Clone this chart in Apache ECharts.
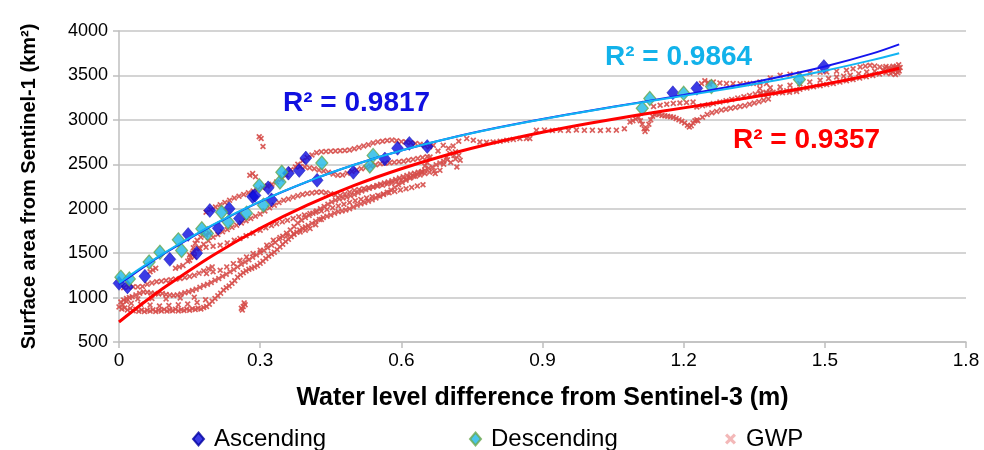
<!DOCTYPE html>
<html>
<head>
<meta charset="utf-8">
<script src="https://cdn.jsdelivr.net/npm/echarts@6/dist/echarts.min.js"></script>
<style>
  html, body { margin: 0; padding: 0; background: #ffffff; }
  #chart { width: 984px; height: 450px; }
</style>
</head>
<body>
<div id="chart"></div>
<script>
// Surface area (km²) versus water level difference (m)

const ascending = [
  [0.000,1160],[0.018,1120],[0.055,1240],[0.108,1430],[0.147,1710],[0.165,1500],
  [0.193,1980],[0.211,1780],[0.234,2000],[0.256,1890],[0.284,2135],[0.289,2150],
  [0.317,2235],[0.324,2100],[0.360,2400],[0.383,2430],[0.397,2570],[0.421,2320],
  [0.498,2410],[0.565,2560],[0.592,2680],[0.617,2735],[0.655,2700],
  [1.177,3305],[1.228,3355],[1.498,3600]
];

const descending = [
  [0.004,1230],[0.022,1210],[0.064,1400],[0.087,1510],[0.126,1650],[0.133,1530],
  [0.176,1775],[0.188,1720],[0.218,1960],[0.232,1850],[0.271,1950],[0.298,2260],
  [0.307,2040],[0.342,2300],[0.346,2410],[0.431,2515],[0.533,2480],[0.540,2600],
  [1.112,3130],[1.128,3240],[1.200,3300],[1.259,3375],[1.446,3455]
];

const gwp = [
  // lowest band near 850–900
  [0.000,895],[0.006,872],[0.012,884],[0.018,861],[0.024,878],[0.030,852],[0.036,868],[0.042,846],
  [0.048,860],[0.054,842],[0.060,856],[0.066,848],[0.072,862],[0.078,844],[0.084,858],[0.090,850],
  [0.096,866],[0.102,848],[0.108,860],[0.114,852],[0.120,868],[0.126,850],[0.132,862],[0.138,855],
  [0.144,870],[0.150,858],[0.156,874],[0.162,866],[0.168,880],[0.174,872],[0.180,888],[0.186,900],
  [0.192,925],[0.198,960],[0.204,990],[0.210,1020],[0.216,1050],[0.222,1085],[0.228,1110],[0.234,1130],
  [0.240,1160],[0.246,1190],[0.252,1230],[0.258,1255],[0.264,1280],[0.270,1300],[0.276,1318],[0.282,1330],
  [0.288,1345],[0.294,1360],[0.300,1385],[0.306,1410],[0.312,1440],[0.318,1465],[0.324,1490],[0.330,1510],
  [0.336,1540],[0.342,1570],[0.348,1600],[0.354,1630],[0.360,1655],[0.366,1685],[0.372,1710],[0.378,1735],
  [0.384,1760],[0.390,1780],[0.396,1795],[0.402,1810],[0.410,1835],[0.418,1860],[0.426,1880],[0.434,1900],
  [0.442,1915],[0.450,1930],[0.458,1950],[0.466,1965],[0.474,1975],[0.482,1985],[0.490,2000],[0.498,2020],
  [0.506,2040],[0.514,2055],[0.522,2070],[0.530,2085],[0.538,2100],[0.546,2120],[0.554,2140],[0.562,2160],
  [0.570,2185],[0.578,2210],[0.586,2240],[0.594,2270],[0.602,2295],[0.610,2320],[0.618,2345],[0.626,2365],
  [0.634,2385],[0.642,2410],[0.650,2430],[0.658,2455],[0.666,2470],[0.674,2495],[0.682,2515],[0.690,2535],
  [0.698,2550],
  // filler between the two lowest bands
  [0.008,920],[0.026,935],[0.046,925],[0.066,915],[0.086,905],[0.106,910],[0.126,918],[0.146,928],
  [0.166,945],[0.184,975],[0.016,955],[0.040,985],[0.070,990],[0.100,985],[0.130,995],[0.160,1005],
  // second band near 950–1060
  [0.004,950],[0.010,972],[0.016,990],[0.022,1000],[0.028,1010],[0.036,1030],[0.044,1048],[0.052,1062],
  [0.060,1060],[0.068,1052],[0.076,1046],[0.084,1040],[0.092,1045],[0.100,1035],[0.108,1028],[0.116,1024],
  [0.124,1030],[0.132,1040],[0.140,1055],[0.148,1065],[0.156,1080],[0.164,1095],[0.172,1115],[0.180,1135],
  [0.188,1150],[0.196,1170],[0.204,1195],[0.212,1215],[0.220,1240],[0.228,1262],[0.236,1290],[0.244,1315],
  [0.252,1345],[0.260,1375],[0.268,1400],[0.276,1425],[0.284,1455],[0.292,1480],[0.300,1505],[0.308,1530],
  [0.316,1560],[0.324,1590],[0.332,1620],[0.340,1655],[0.348,1690],[0.356,1725],[0.364,1760],[0.372,1800],
  [0.380,1840],[0.388,1870],[0.396,1900],[0.404,1925],[0.412,1950],[0.420,1975],[0.428,2000],[0.436,2025],
  [0.444,2050],[0.452,2075],[0.460,2095],[0.468,2110],[0.476,2120],[0.484,2130],[0.492,2145],[0.500,2160],
  [0.508,2180],[0.516,2200],[0.524,2215],[0.532,2230],[0.540,2245],[0.548,2260],[0.556,2275],[0.564,2290],
  [0.572,2300],[0.580,2315],[0.588,2330],[0.596,2345],[0.604,2360],[0.612,2375],[0.620,2390],[0.628,2400],
  [0.636,2410],[0.644,2420],
  // band near 1100–1350 on the left
  [0.010,1110],[0.020,1118],[0.030,1122],[0.040,1120],[0.050,1125],[0.060,1150],[0.070,1165],[0.080,1178],
  [0.090,1185],[0.100,1192],[0.110,1200],[0.120,1208],[0.130,1215],[0.140,1225],[0.150,1238],[0.160,1250],
  [0.170,1275],[0.180,1300],[0.190,1325],[0.198,1345],
  [0.066,1290],[0.072,1310],[0.078,1330],[0.120,1330],[0.128,1345],[0.136,1360],[0.146,1410],[0.152,1455],
  [0.156,1500],[0.158,1560],[0.162,1610],[0.166,1645],[0.174,1680],[0.184,1705],[0.192,1725],
  // rising bands between the trend lines
  [0.186,1270],[0.200,1290],[0.215,1307],[0.229,1345],[0.243,1382],[0.257,1420],[0.271,1457],[0.285,1495],
  [0.300,1532],[0.314,1590],[0.328,1645],[0.342,1675],[0.357,1701],[0.371,1720],[0.385,1738],[0.396,1758],
  [0.406,1776],[0.418,1820],[0.430,1880],
  [0.150,1420],[0.160,1460],[0.172,1550],[0.185,1565],[0.200,1578],[0.215,1590],[0.230,1615],[0.245,1645],
  [0.257,1665],[0.270,1695],[0.285,1725],[0.300,1757],[0.312,1785],[0.324,1810],[0.335,1832],[0.347,1852],
  [0.358,1870],[0.370,1890],[0.382,1910],[0.394,1930],[0.406,1945],[0.418,1960],[0.430,1975],[0.442,1990],
  [0.454,2010],[0.466,2030],[0.478,2050],[0.490,2070],[0.502,2090],[0.514,2105],[0.526,2120],[0.538,2135],
  [0.550,2150],[0.562,2165],[0.574,2180],[0.586,2195],[0.598,2210],[0.610,2225],[0.622,2240],[0.634,2255],
  [0.646,2270],
  [0.150,1480],[0.160,1520],[0.170,1560],[0.180,1600],[0.190,1640],[0.200,1680],[0.210,1710],[0.220,1740],
  [0.230,1765],[0.240,1790],[0.250,1815],[0.260,1840],[0.270,1865],[0.280,1890],[0.290,1915],[0.300,1940],
  [0.310,1975],[0.320,2010],[0.330,2040],[0.340,2070],[0.350,2095],[0.360,2110],[0.370,2130],[0.380,2145],
  [0.390,2160],[0.400,2170],[0.410,2178],[0.420,2185],[0.430,2188],[0.440,2180],[0.450,2168],[0.460,2155],
  [0.470,2150],[0.480,2165],[0.490,2185],[0.500,2205],[0.510,2215],[0.520,2225],[0.530,2235],[0.540,2245],
  [0.550,2255],[0.560,2265],[0.570,2278],[0.580,2290],[0.590,2305],[0.600,2320],[0.610,2335],[0.620,2350],
  [0.630,2365],[0.640,2380],[0.650,2395],[0.660,2410],[0.670,2425],
  [0.185,1960],[0.195,1990],[0.205,2020],[0.215,2045],[0.225,2070],[0.235,2095],[0.245,2120],[0.255,2140],
  [0.265,2160],[0.275,2180],[0.285,2200],[0.295,2215],[0.305,2235],[0.315,2255],[0.325,2275],[0.335,2300],
  [0.345,2330],[0.355,2380],[0.365,2440],[0.375,2470],[0.385,2475],[0.395,2470],[0.405,2460],[0.415,2450],
  [0.425,2435],[0.435,2425],[0.445,2410],[0.455,2390],[0.465,2378],[0.475,2380],[0.485,2400],[0.495,2420],
  [0.505,2435],[0.515,2450],[0.525,2465],[0.535,2480],[0.545,2495],[0.555,2505],[0.565,2512],[0.575,2518],
  [0.585,2522],[0.595,2528],[0.605,2535],[0.615,2545],[0.625,2555],[0.635,2565],[0.645,2575],[0.655,2585],
  [0.380,2500],[0.390,2540],[0.400,2575],[0.410,2605],[0.420,2630],[0.430,2640],[0.440,2645],[0.450,2648],
  [0.460,2650],[0.470,2652],[0.480,2655],[0.490,2660],[0.500,2675],[0.510,2690],[0.520,2705],[0.530,2720],
  [0.540,2740],[0.550,2752],[0.560,2760],[0.570,2768],[0.580,2772],[0.590,2765],[0.600,2755],[0.610,2750],
  [0.620,2742],[0.630,2735],[0.640,2725],[0.650,2710],[0.660,2698],
  // isolated points
  [0.260,880],[0.262,860],[0.264,900],[0.266,940],[0.268,920],
  [0.298,2810],[0.302,2790],[0.306,2700],[0.278,2376],[0.284,2395],[0.290,2360],
  // cluster near 0.65–0.73
  [0.650,2480],[0.655,2520],[0.661,2582],[0.668,2713],[0.672,2395],[0.678,2650],[0.682,2432],[0.689,2713],
  [0.690,2500],[0.696,2582],[0.700,2680],[0.703,2620],[0.705,2520],[0.710,2705],[0.712,2600],[0.715,2560],
  [0.715,2640],[0.718,2470],[0.722,2600],[0.725,2545],
  // sparse middle run
  [0.722,2760],[0.739,2789],[0.753,2770],[0.767,2750],[0.781,2748],[0.795,2750],[0.810,2760],[0.824,2770],
  [0.838,2780],[0.852,2789],[0.866,2790],[0.873,2789],
  [0.887,2882],[0.904,2885],[0.921,2880],[0.938,2884],[0.955,2880],[0.972,2886],[0.989,2882],[1.006,2884],
  [1.023,2880],[1.040,2886],[1.057,2884],[1.074,2900],[1.086,2976],
  // cluster near 1.1–1.23
  [1.092,2990],[1.098,3010],[1.104,3030],[1.108,2990],[1.112,2950],[1.116,2900],[1.118,2870],[1.122,2900],
  [1.126,2950],[1.130,3000],[1.134,3040],[1.138,3060],[1.142,3070],[1.148,3060],[1.154,3050],[1.160,3045],
  [1.166,3040],[1.172,3035],[1.178,3030],[1.184,3015],[1.190,3000],[1.196,2985],[1.202,2965],[1.208,2940],
  [1.212,2920],[1.216,2935],[1.220,2965],[1.224,2990],[1.228,3000],
  [1.136,3150],[1.150,3165],[1.164,3175],[1.178,3185],[1.192,3190],[1.206,3195],[1.220,3200],
  [1.228,3145],[1.240,3160],[1.252,3170],[1.263,3183],[1.277,3200],[1.290,3215],[1.302,3230],[1.315,3245],
  [1.328,3260],[1.340,3275],[1.352,3290],[1.364,3300],[1.375,3310],[1.383,3315],
  [1.230,2990],[1.240,3030],[1.250,3060],[1.260,3080],[1.270,3095],[1.280,3110],[1.290,3120],[1.300,3130],
  [1.310,3140],[1.320,3150],[1.330,3160],[1.340,3175],[1.350,3190],[1.360,3205],[1.370,3220],[1.380,3235],
  [1.238,3408],[1.245,3440],[1.252,3420],[1.255,3400],[1.263,3426],[1.277,3415],[1.291,3408],[1.305,3408],
  [1.320,3405],[1.334,3408],[1.348,3410],[1.362,3412],[1.376,3408],
  // upper right bands
  [1.362,3426],[1.384,3470],[1.405,3502],[1.426,3512],[1.447,3520],[1.468,3528],[1.490,3535],[1.504,3539],
  [1.525,3548],[1.546,3558],[1.560,3575],[1.575,3595],[1.586,3605],[1.596,3614],[1.606,3605],[1.617,3595],
  [1.630,3600],[1.645,3603],[1.656,3577],
  [1.362,3352],[1.384,3362],[1.405,3370],[1.426,3390],[1.447,3408],[1.468,3426],[1.490,3445],[1.508,3465],
  [1.525,3482],[1.540,3492],[1.554,3502],[1.572,3520],[1.589,3539],[1.606,3548],[1.624,3558],[1.638,3568],
  [1.652,3577],
  [1.362,3295],[1.376,3300],[1.390,3310],[1.405,3320],[1.419,3328],[1.433,3333],[1.447,3345],[1.462,3358],
  [1.476,3372],[1.490,3385],[1.504,3398],[1.518,3410],[1.532,3425],[1.546,3440],[1.560,3455],[1.574,3470],
  [1.588,3485],[1.602,3500],[1.616,3515],[1.630,3530],[1.644,3545],[1.656,3560],
  [1.370,3280],[1.380,3290],[1.395,3300],[1.410,3305],[1.425,3310],[1.440,3320],
  [1.628,3580],[1.636,3590],[1.640,3520],[1.644,3570],[1.645,3540],[1.648,3580],[1.650,3510],[1.652,3600],
  [1.655,3530],[1.657,3620],[1.658,3550],[1.660,3590]
];

// Third-order trend curves, sampled along x
const ascendingTrend = [
  [0,1150],[0.05,1335],[0.1,1508],[0.2,1816],[0.3,2080],[0.4,2304],[0.5,2494],[0.6,2655],[0.7,2791],
  [0.8,2908],[0.9,3010],[1.0,3103],[1.1,3191],[1.2,3280],[1.3,3375],[1.4,3480],[1.5,3600],[1.6,3745],
  [1.658,3850]
];
const descendingTrend = [
  [0,1165],[0.05,1345],[0.1,1515],[0.2,1820],[0.3,2082],[0.4,2305],[0.5,2494],[0.6,2655],[0.7,2790],
  [0.8,2906],[0.9,3008],[1.0,3100],[1.1,3186],[1.2,3270],[1.3,3355],[1.4,3448],[1.5,3553],[1.6,3672],
  [1.658,3750]
];
const gwpTrend = [
  [0,725],[0.05,933],[0.1,1127],[0.2,1477],[0.3,1780],[0.4,2040],[0.5,2262],[0.6,2450],[0.7,2610],
  [0.8,2745],[0.9,2860],[1.0,2961],[1.1,3051],[1.2,3135],[1.3,3218],[1.4,3305],[1.5,3400],[1.6,3508],
  [1.658,3580]
];

const r2Labels = ['R\u00B2 = 0.9817', 'R\u00B2 = 0.9864', 'R\u00B2 = 0.9357'];
const seriesNames = ['Ascending', 'Descending', 'GWP'];
const xTitle = 'Water level difference from Sentinel-3 (m)';
const yTitle = 'Surface area from Sentinel-1 (km\u00B2)';

const FONT = '"Liberation Sans", Arial, sans-serif';
const BLUE = '#0A0ADF';
const CYAN = '#1DB8E6';
const RED = '#FF0000';
const GWP_COLOR = '#D64E4A';
// thick "x" glyph used for the GWP samples
const X_MARK = 'path://M0,2L2,0L5,3L8,0L10,2L7,5L10,8L8,10L5,7L2,10L0,8L3,5Z';

const chart = echarts.init(document.getElementById('chart'), null, { renderer: 'canvas' });

function trendSeries(name, data, color, width) {
  return {
    name: name, type: 'line', data: data, smooth: 0.3, showSymbol: false, silent: true,
    lineStyle: { color: color, width: width }, z: 5
  };
}

function legendBlock(left, item) {
  return {
    left: left, top: 422, itemWidth: 11, itemHeight: 13,
    textStyle: { fontFamily: FONT, fontSize: 24, color: '#000', padding: [0, 0, 0, 5] },
    data: [item]
  };
}

chart.setOption({
  animation: false,
  backgroundColor: '#ffffff',
  grid: { left: 119, right: 18, top: 31, bottom: 108 },
  xAxis: {
    type: 'value', min: 0, max: 1.8, interval: 0.3,
    name: xTitle, nameLocation: 'middle', nameGap: 44,
    nameTextStyle: { fontFamily: FONT, fontSize: 25, fontWeight: 'bold', color: '#000' },
    axisLine: { show: true, lineStyle: { color: '#BFBFBF', width: 1.5 } },
    axisTick: { show: true, length: 6, lineStyle: { color: '#BFBFBF', width: 1.5 } },
    axisLabel: {
      fontFamily: FONT, fontSize: 19, color: '#000', margin: 9,
      formatter: v => String(+v.toFixed(1))
    },
    splitLine: { show: false }
  },
  yAxis: {
    type: 'value', min: 500, max: 4000, interval: 500,
    name: yTitle, nameLocation: 'middle', nameGap: 80, nameRotate: 90,
    nameTextStyle: { fontFamily: FONT, fontSize: 20, fontWeight: 'bold', color: '#000' },
    axisLine: { show: true, lineStyle: { color: '#BFBFBF', width: 1.5 } },
    axisTick: { show: true, length: 6, lineStyle: { color: '#BFBFBF', width: 1.5 } },
    axisLabel: { fontFamily: FONT, fontSize: 18, color: '#000', margin: 11, formatter: v => String(v) },
    splitLine: { show: true, lineStyle: { color: '#D4D4D4', width: 2 } }
  },
  legend: [
    legendBlock(187, { name: seriesNames[0], icon: 'diamond', itemStyle: { color: BLUE } }),
    legendBlock(464, { name: seriesNames[1], icon: 'diamond', itemStyle: { color: CYAN } }),
    legendBlock(720, { name: seriesNames[2], icon: X_MARK, itemStyle: { color: '#F2B0B0' } })
  ],
  series: [
    {
      name: seriesNames[2], type: 'scatter', data: gwp, symbol: X_MARK, symbolSize: 6,
      itemStyle: { color: GWP_COLOR, opacity: 0.9 }, z: 1
    },
    {
      name: seriesNames[0], type: 'scatter', data: ascending, symbol: 'diamond', symbolSize: [12, 14],
      itemStyle: { color: BLUE, borderColor: '#0000A0', borderWidth: 0.5 }, z: 2
    },
    {
      name: seriesNames[1], type: 'scatter', data: descending, symbol: 'diamond', symbolSize: [12, 14],
      itemStyle: { color: CYAN, borderColor: '#6AA84F', borderWidth: 1.2 }, z: 3
    },
    trendSeries('GWP trend', gwpTrend, RED, 3),
    trendSeries('Ascending trend', ascendingTrend, '#1414EE', 2),
    trendSeries('Descending trend', descendingTrend, '#12B4F2', 2)
  ],
  graphic: [
    { type: 'text', left: 283, top: 89, z: 10,
      style: { text: r2Labels[0], font: 'bold 28px ' + FONT, fill: '#1010E0' } },
    { type: 'text', left: 605, top: 43, z: 10,
      style: { text: r2Labels[1], font: 'bold 28px ' + FONT, fill: '#12B2EA' } },
    { type: 'text', left: 733, top: 126, z: 10,
      style: { text: r2Labels[2], font: 'bold 28px ' + FONT, fill: '#FF0000' } }
  ]
});
</script>
</body>
</html>
